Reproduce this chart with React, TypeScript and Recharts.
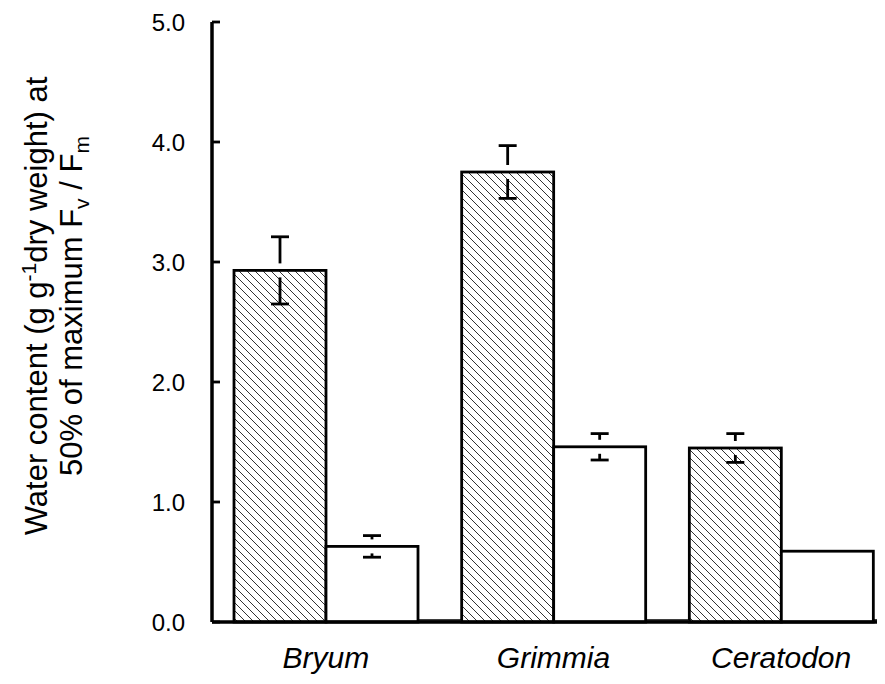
import React from 'react';
import { BarChart, Bar, XAxis, YAxis } from 'recharts';

const categories = ['Bryum', 'Grimmia', 'Ceratodon'];
const hatchedValues = [2.93, 3.75, 1.45];
const hatchedErrors = [0.28, 0.22, 0.12];
const openValues = [0.63, 1.46, 0.59];
const openErrors = [0.09, 0.11, 0];
const yTicks = [0, 1, 2, 3, 4, 5];

const data = categories.map((c, i) => ({
  name: c,
  hatched: hatchedValues[i],
  hatchedErr: hatchedErrors[i],
  open: openValues[i],
  openErr: openErrors[i],
}));

const FONT = '"Liberation Sans", Arial, sans-serif';
const GAP = 22;

const ErrorMarks = ({ cx, y, ppu, err }: any) => {
  if (!err || !ppu) return null;
  const gap = 7;
  const up = y - err * ppu;
  const down = y + err * ppu;
  const half = 9;
  return (
    <g stroke="#000" strokeWidth={2.8}>
      {up < y - gap && <line x1={cx} x2={cx} y1={up} y2={y - gap} />}
      <line x1={cx - half} x2={cx + half} y1={up} y2={up} />
      {down > y + gap && <line x1={cx} x2={cx} y1={y + gap} y2={down} />}
      <line x1={cx - half} x2={cx + half} y1={down} y2={down} />
    </g>
  );
};

const HatchedShape = (props: any) => {
  const { x, y, width, height, payload, index } = props;
  const ppu = payload.hatched ? height / payload.hatched : 0;
  const id = `hatch-${index}`;
  return (
    <g>
      <defs>
        <pattern id={id} patternUnits="userSpaceOnUse" width={8} height={8}>
          <rect width={8} height={8} fill="#fff" />
          <path d="M-2,-2 L10,10 M-2,6 L2,10 M6,-2 L10,2" stroke="#333" strokeWidth={1} />
        </pattern>
      </defs>
      <rect x={x} y={y} width={width} height={height} fill={`url(#${id})`} stroke="#000" strokeWidth={2.8} />
      <ErrorMarks cx={x + width / 2} y={y} ppu={ppu} err={payload.hatchedErr} />
    </g>
  );
};

const OpenShape = (props: any) => {
  const { x, y, width, height, payload } = props;
  const ppu = payload.open ? height / payload.open : 0;
  const base = y + height;
  return (
    <g>
      <rect x={x + width} y={base - 2} width={GAP * 2} height={2} fill="#fff" stroke="#000" strokeWidth={1.5} />
      <rect x={x} y={y} width={width} height={height} fill="#fff" stroke="#000" strokeWidth={2.8} />
      <ErrorMarks cx={x + width / 2} y={y} ppu={ppu} err={payload.openErr} />
    </g>
  );
};

const YTick = (props: any) => {
  const { x, y, payload } = props;
  return (
    <g>
      <line x1={x + 27} x2={x + 35} y1={y} y2={y} stroke="#000" strokeWidth={2.8} />
      <text x={x} y={y} textAnchor="end" dominantBaseline="central" fontSize={24} fontFamily={FONT} fill="#000">
        {Number(payload.value).toFixed(1)}
      </text>
    </g>
  );
};

const XTick = (props: any) => {
  const { x, y, payload } = props;
  return (
    <text x={x} y={y + 46} textAnchor="middle" fontSize={30} fontStyle="italic" fontFamily={FONT} fill="#000">
      {payload.value}
    </text>
  );
};

export default function App() {
  const cy = 298;
  return (
    <div style={{ position: 'relative', width: 877, height: 668, overflow: 'hidden' }}>
      <BarChart
        width={887}
        height={668}
        data={data}
        margin={{ top: 14, right: 0, bottom: 6, left: 0 }}
        barCategoryGap={GAP}
        barGap={0}
      >
        <YAxis
          width={204}
          domain={[0, 5]}
          ticks={yTicks}
          interval={0}
          tickSize={0}
          tickMargin={27}
          tickLine={false}
          axisLine={{ stroke: '#000', strokeWidth: 3.5 }}
          tick={<YTick />}
        />
        <XAxis
          dataKey="name"
          height={48}
          tickSize={0}
          tickMargin={0}
          tickLine={false}
          axisLine={{ stroke: '#000', strokeWidth: 3.5 }}
          tick={<XTick />}
          interval={0}
        />
        <Bar dataKey="hatched" shape={<HatchedShape />} isAnimationActive={false} />
        <Bar dataKey="open" shape={<OpenShape />} isAnimationActive={false} />
      </BarChart>
      <svg width={120} height={668} style={{ position: 'absolute', left: 0, top: 0, pointerEvents: 'none' }}>
        <text transform="rotate(-90)" x={-cy} y={39} textAnchor="middle" fontSize={31} fontFamily={FONT} fill="#000">
          Water content (g g<tspan dy={-11} fontSize={21}>-1</tspan><tspan dy={11}>dry weight) at</tspan>
        </text>
        <text transform="rotate(-90)" x={-cy} y={74} textAnchor="middle" fontSize={31} fontFamily={FONT} fill="#000">
          50% of maximum F<tspan dy={7} fontSize={21}>v</tspan><tspan dy={-7}> / F</tspan><tspan dy={7} fontSize={21}>m</tspan>
        </text>
      </svg>
    </div>
  );
}
